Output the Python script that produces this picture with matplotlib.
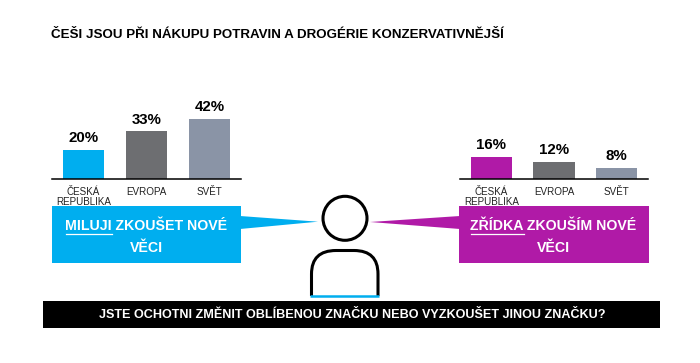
#!/usr/bin/env python3
# -*- coding: utf-8 -*-
import matplotlib
matplotlib.use('Agg')
import matplotlib.pyplot as plt
from matplotlib.patches import Circle, PathPatch, Polygon, Rectangle
from matplotlib.path import Path

W, H = 700, 363
plt.rcParams['font.family'] = ['Liberation Sans', 'DejaVu Sans']

categories = ['ČESKÁ\nREPUBLIKA', 'EVROPA', 'SVĚT']
love_values = [20, 33, 42]
rarely_values = [16, 12, 8]
love_colors = ['#00AEEF', '#6D6E71', '#8A94A6']
rarely_colors = ['#B01AA7', '#6D6E71', '#8A94A6']

title = 'ČEŠI JSOU PŘI NÁKUPU POTRAVIN A DROGÉRIE KONZERVATIVNĚJŠÍ'
question = 'JSTE OCHOTNI ZMĚNIT OBLÍBENOU ZNAČKU NEBO VYZKOUŠET JINOU ZNAČKU?'


def px_axes(fig, x0, y0, x1, y1):
    # axes from pixel box, y counted from the top like in the picture
    return fig.add_axes([x0 / W, 1 - y1 / H, (x1 - x0) / W, (y1 - y0) / H])


def bar_panel(fig, box, values, colors, ymax):
    ax = px_axes(fig, *box)
    bars = ax.bar(range(len(values)), values, width=0.66, color=colors)
    ax.bar_label(bars, labels=[f'{v}%' for v in values], padding=3.5,
                 fontsize=10.8, fontweight='bold', color='black')
    ax.set_xlim(-0.5, 2.5)
    ax.set_ylim(0, ymax)
    ax.set_yticks([])
    ax.set_xticks(range(len(values)))
    ax.set_xticklabels(categories, fontsize=7.1, color='#222222', linespacing=1.05)
    ax.tick_params(axis='x', length=0, pad=6)
    for side in ['top', 'left', 'right']:
        ax.spines[side].set_visible(False)
    ax.spines['bottom'].set_linewidth(1.1)
    ax.patch.set_alpha(0)
    return ax


fig = plt.figure(figsize=(7, 3.63), dpi=100)

# overlay in picture pixels for the callouts and the person
bg = fig.add_axes([0, 0, 1, 1])
bg.set_xlim(0, W)
bg.set_ylim(H, 0)
bg.axis('off')

bar_panel(fig, (52, 90, 241, 178.7), love_values, love_colors, 62)
bar_panel(fig, (460, 90, 648, 178.7), rarely_values, rarely_colors, 64.5)

bg.text(51, 35.5, title, fontsize=9.65, fontweight='bold', va='center', color='black')

# left callout
bg.add_patch(Rectangle((52, 206), 189, 57, color='#00AEEF', lw=0))
bg.add_patch(Polygon([(240, 216), (318, 221.7), (240, 229)], color='#00AEEF', lw=0))
bg.text(146, 237, 'MILUJI ZKOUŠET NOVÉ\nVĚCI', color='white', fontsize=10.2,
        fontweight='bold', ha='center', va='center', linespacing=1.65,
        multialignment='center')
bg.plot([65.7, 111.7], [233.7, 233.7], color='white', lw=0.9)

# right callout
bg.add_patch(Rectangle((459, 206), 190, 57, color='#B01AA7', lw=0))
bg.add_patch(Polygon([(460, 216), (370, 222), (460, 229)], color='#B01AA7', lw=0))
bg.text(553.5, 237, 'ZŘÍDKA ZKOUŠÍM NOVÉ\nVĚCI', color='white', fontsize=10.2,
        fontweight='bold', ha='center', va='center', linespacing=1.65,
        multialignment='center')
bg.plot([470.7, 524], [233.7, 233.7], color='white', lw=0.9)

# person
bg.add_patch(Circle((345, 218.3), 22, fill=False, ec='black', lw=2.2))
body = Path([(311.5, 296), (311.5, 274), (311.5, 250.5), (336, 250.5),
             (354, 250.5), (378, 250.5), (378, 274), (378, 296)],
            [Path.MOVETO, Path.LINETO, Path.CURVE3, Path.CURVE3,
             Path.LINETO, Path.CURVE3, Path.CURVE3, Path.LINETO])
bg.add_patch(PathPatch(body, fill=False, ec='black', lw=2.2))
bg.plot([310, 379], [296, 296], color='#00AEEF', lw=1.8, solid_capstyle='butt')

# question strip
bg.add_patch(Rectangle((43, 301), 617, 27, color='black', lw=0))
bg.text(352.5, 314.5, question, color='white', fontsize=9.1, fontweight='bold',
        ha='center', va='center')

fig.savefig('out.png', dpi=100)
